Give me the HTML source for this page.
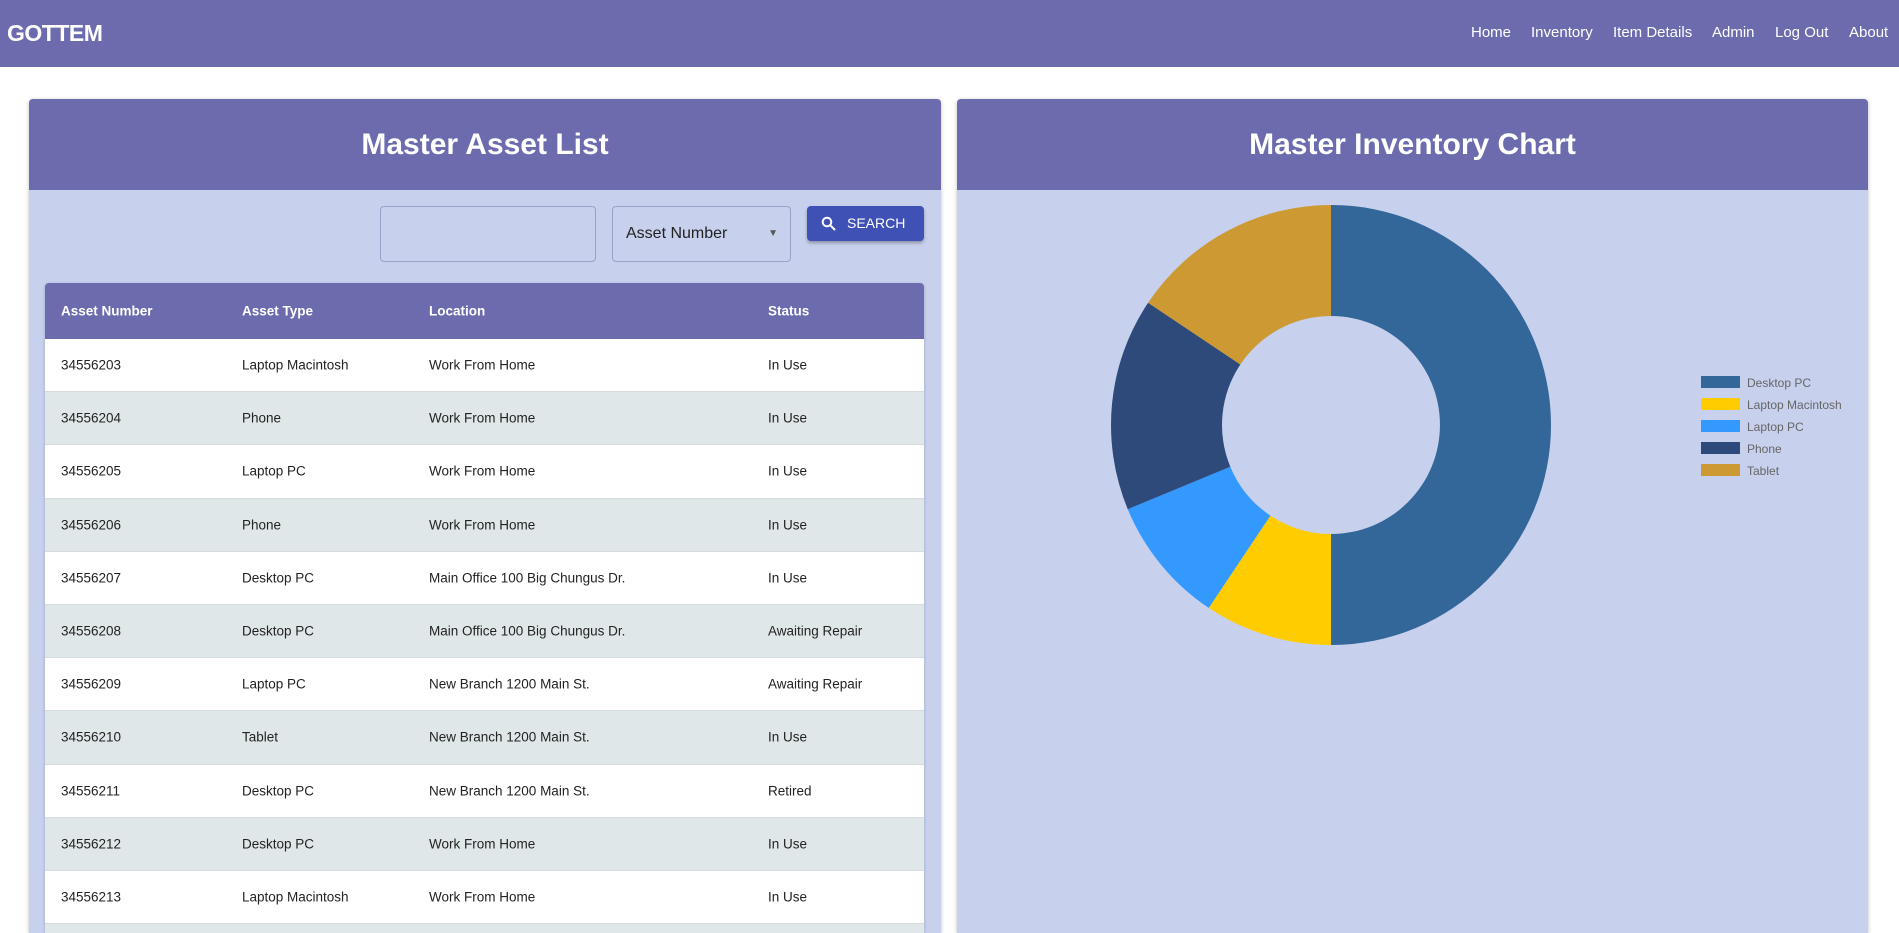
<!DOCTYPE html>
<html style="overflow:hidden;width:1899px;height:933px"><head><meta charset="utf-8"><style>
*{box-sizing:border-box;margin:0;padding:0}
body{width:1899px;height:933px;overflow:hidden;background:#fff;font-family:"Liberation Sans",Arial,sans-serif;position:relative}
.nav{position:absolute;left:0;top:0;width:1899px;height:67px;background:#6b6bae}
.brand{position:absolute;left:7px;top:20px;color:#fff;font-weight:bold;font-size:23px;letter-spacing:-0.5px}
.links a{position:absolute;top:24px;color:#fff;font-size:15px;text-decoration:none}
.card{position:absolute;top:99px;height:834px;background:#c7d0ed;border-radius:4px 4px 0 0;box-shadow:0 1px 4px rgba(0,0,0,.25)}
.chead{position:absolute;left:0;top:0;right:0;height:91px;background:#6b6bae;border-radius:4px 4px 0 0;color:#fff;font-weight:bold;font-size:30px;text-align:center;line-height:91px}
.inp{position:absolute;border:1px solid #9aa3c7;border-radius:4px}
.tbl{position:absolute;left:45px;top:283px;width:879px;height:650px;border-radius:4px 4px 0 0;overflow:hidden;box-shadow:0 1px 3px rgba(0,0,0,.2)}
.row{position:relative;height:53.2px;border-bottom:1px solid #d6dbe0;font-size:13.5px;color:#222}
.row span{position:absolute;top:50%;transform:translateY(-50%)}
.hrow{height:56px;background:#6b6bae;color:#fff;font-weight:bold;border:none}
.c1{left:16px}.c2{left:197px}.c3{left:384px}.c4{left:723px}
</style></head><body>
<div class="nav">
<div class="brand">GOTTEM</div>
<div class="links">
<a style="left:1471px">Home</a>
<a style="left:1531px">Inventory</a>
<a style="left:1613px">Item Details</a>
<a style="left:1712px">Admin</a>
<a style="left:1775px">Log Out</a>
<a style="left:1849px">About</a>
</div></div>

<div class="card" style="left:29px;width:912px">
<div class="chead">Master Asset List</div>
</div>
<div class="inp" style="left:380px;top:206px;width:216px;height:56px"></div>
<div class="inp" style="left:612px;top:206px;width:179px;height:56px;font-size:16px;color:#222"><span style="position:absolute;left:13px;top:18px">Asset Number</span><span style="position:absolute;right:12px;top:21px;font-size:10px;color:#555">▼</span></div>
<div style="position:absolute;left:807px;top:206px;width:117px;height:35px;background:#3f51b5;border-radius:4px;color:#fff;font-size:14px;line-height:35px;box-shadow:0 2px 3px rgba(0,0,0,.3)"><svg style="position:absolute;left:14px;top:10px" width="15" height="15" viewBox="0 0 15 15"><circle cx="6" cy="6" r="4.3" fill="none" stroke="#fff" stroke-width="2"/><line x1="9" y1="9" x2="14" y2="14" stroke="#fff" stroke-width="2"/></svg><span style="position:absolute;left:40px">SEARCH</span></div>

<div class="tbl" id="tbl">
<div class="row hrow"><span class="c1">Asset Number</span><span class="c2">Asset Type</span><span class="c3">Location</span><span class="c4">Status</span></div>
</div>

<div class="card" style="left:957px;width:911px">
<div class="chead">Master Inventory Chart</div>
</div>
<svg id="chart" style="position:absolute;left:957px;top:190px" width="911" height="743"></svg>

<script>
const rowsData=[["34556203","Laptop Macintosh","Work From Home","In Use"],["34556204","Phone","Work From Home","In Use"],["34556205","Laptop PC","Work From Home","In Use"],["34556206","Phone","Work From Home","In Use"],["34556207","Desktop PC","Main Office 100 Big Chungus Dr.","In Use"],["34556208","Desktop PC","Main Office 100 Big Chungus Dr.","Awaiting Repair"],["34556209","Laptop PC","New Branch 1200 Main St.","Awaiting Repair"],["34556210","Tablet","New Branch 1200 Main St.","In Use"],["34556211","Desktop PC","New Branch 1200 Main St.","Retired"],["34556212","Desktop PC","Work From Home","In Use"],["34556213","Laptop Macintosh","Work From Home","In Use"],["","","",""]];
const tbl=document.getElementById('tbl');
rowsData.forEach((r,i)=>{
 const d=document.createElement('div');d.className='row';d.style.background=i%2?'#e0e7e9':'#fff';
 
 
 r.forEach((t,j)=>{const s=document.createElement('span');s.className='c'+(j+1);s.textContent=t;d.appendChild(s);});
 tbl.appendChild(d);
});
const categories=["Desktop PC","Laptop Macintosh","Laptop PC","Phone","Tablet"];
const counts=[16,3,3,5,5];
const colors=["#336699","#ffcc00","#3399ff","#2e4a7a","#cc9933"];
const svg=document.getElementById('chart');const NS='http://www.w3.org/2000/svg';
const cx=374,cy=235,R=220,r=109;
const total=counts.reduce((a,b)=>a+b,0);
function pt(a,rad){return [cx+rad*Math.sin(a),cy-rad*Math.cos(a)];}
let a0=0;
counts.forEach((v,i)=>{
 const a1=a0+v/total*2*Math.PI;const lg=(a1-a0)>Math.PI?1:0;
 const p1=pt(a0,R),p2=pt(a1,R),p3=pt(a1,r),p4=pt(a0,r);
 const p=document.createElementNS(NS,'path');
 p.setAttribute('d',`M${p1}A${R},${R} 0 ${lg} 1 ${p2}L${p3}A${r},${r} 0 ${lg} 0 ${p4}Z`);
 p.setAttribute('fill',colors[i]);
 
 
 svg.appendChild(p);a0=a1;
});
categories.forEach((c,i)=>{
 const g=document.createElementNS(NS,'g');
 
 
 const y=186+i*22;
 const b=document.createElementNS(NS,'rect');b.setAttribute('x',744);b.setAttribute('y',y);b.setAttribute('width',39);b.setAttribute('height',12);b.setAttribute('fill',colors[i]);
 const t=document.createElementNS(NS,'text');t.setAttribute('x',790);t.setAttribute('y',y+11);t.setAttribute('font-size','12');t.setAttribute('fill','#666');t.setAttribute('font-family','Liberation Sans, sans-serif');t.textContent=c;
 g.appendChild(b);g.appendChild(t);svg.appendChild(g);
});
</script>
</body></html>
